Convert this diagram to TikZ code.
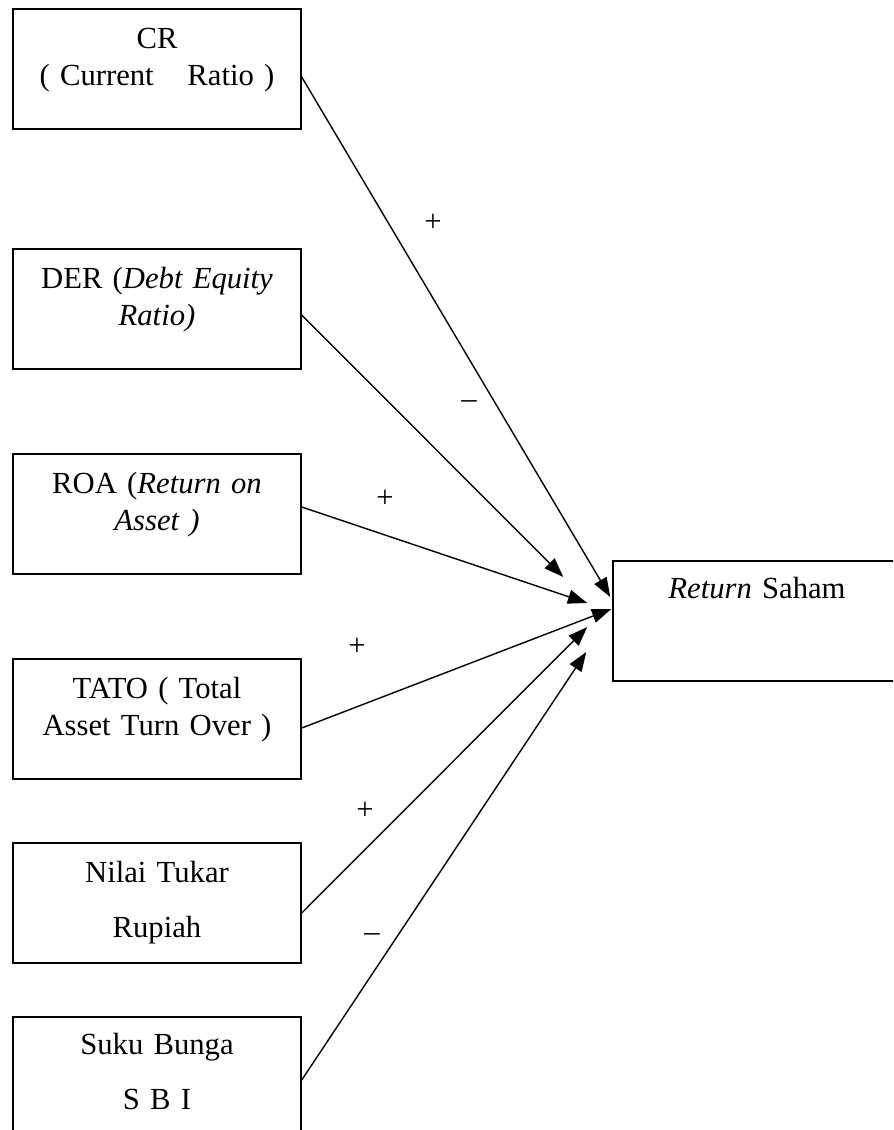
\documentclass[tikz,border=0pt]{standalone}
\usepackage{fontspec}
\setmainfont{Liberation Serif}
\usetikzlibrary{arrows.meta,calc,positioning}
\tikzset{
varbox/.style={draw, line width=1.1pt, minimum width=216pt, minimum height=90pt, inner sep=0pt}, % the boxes
vartext/.style={anchor=base, text width=214pt, align=center, inner sep=0pt, font=\fontsize{23}{27.75}\selectfont},
widetext/.style={vartext, font=\fontsize{23}{41.25}\selectfont}, % double spaced text
sign/.style={inner sep=0pt, font=\fontsize{23}{27}\selectfont},
link/.style={line width=1.05pt, -{Triangle[length=14.5pt,width=10.5pt]}},
}

\begin{document}
\begin{tikzpicture}[x=0.75pt,y=0.75pt,yscale=-1,xscale=1]
\useasboundingbox (0,0) rectangle (893,1130);
\clip (0,0) rectangle (893,1130);
%Boxes
\node [varbox] (cr) at (157,69) {};
\node [varbox] (der) at (157,309) {};
\node [varbox] (roa) at (157,514) {};
\node [varbox] (tato) at (157,719) {};
\node [varbox] (kurs) at (157,903) {};
\node [varbox] (sbi) at (157,1077) {};
\node [varbox] (ret) at (757,621) {};
%Texts
\node [vartext] (crtext) at ([yshift=30pt]cr.north) {CR\\( Current\hspace{1.1em}Ratio )};
\node [vartext] (dertext) at ([yshift=30pt]der.north) {DER (\textit{Debt Equity}\\\textit{Ratio)}};
\node [vartext] (roatext) at ([yshift=30pt]roa.north) {ROA (\textit{Return on}\\\textit{Asset )}};
\node [vartext] (tatotext) at ([yshift=30pt]tato.north) {TATO ( Total\\Asset Turn Over )};
\node [widetext] (kurstext) at ([yshift=30pt]kurs.north) {Nilai Tukar\\Rupiah};
\node [widetext] (sbitext) at ([yshift=29pt]sbi.north) {Suku Bunga\\S B I};
\node [vartext] (rettext) at ([yshift=29pt]ret.north) {\textit{Return} Saham};
%Arrow ends
\coordinate (crend) at ($(ret.west)+(-2,-24)$);
\coordinate (derend) at ($(ret.west)+(-49,-44)$);
\coordinate (roaend) at ($(ret.west)+(-25,-18)$);
\coordinate (tatoend) at ($(ret.west)+(-1,-12)$);
\coordinate (kursend) at ($(ret.west)+(-25,6)$);
\coordinate (sbiend) at ($(ret.west)+(-26,31)$);
%Straight Lines
\draw [link] ($(cr.east)+(0,8)$) -- (crend);
\draw [link] ($(der.east)+(0,6)$) -- (derend);
\draw [link] ($(roa.east)+(0,-7)$) -- (roaend);
\draw [link] ($(tato.east)+(0,9)$) -- (tatoend);
\draw [link] ($(kurs.east)+(0,10)$) -- (kursend);
\draw [link] ($(sbi.east)+(0,3)$) -- (sbiend);
%Signs
\node [sign] (crsign) at (433,223) {+};
\node [sign] (dersign) at (469,405) {--};
\node [sign] (roasign) at (385,499) {+};
\node [sign] (tatosign) at (357,647) {+};
\node [sign] (kurssign) at (365,811) {+};
\node [sign] (sbisign) at (372,938) {--};
\end{tikzpicture}
\end{document}
